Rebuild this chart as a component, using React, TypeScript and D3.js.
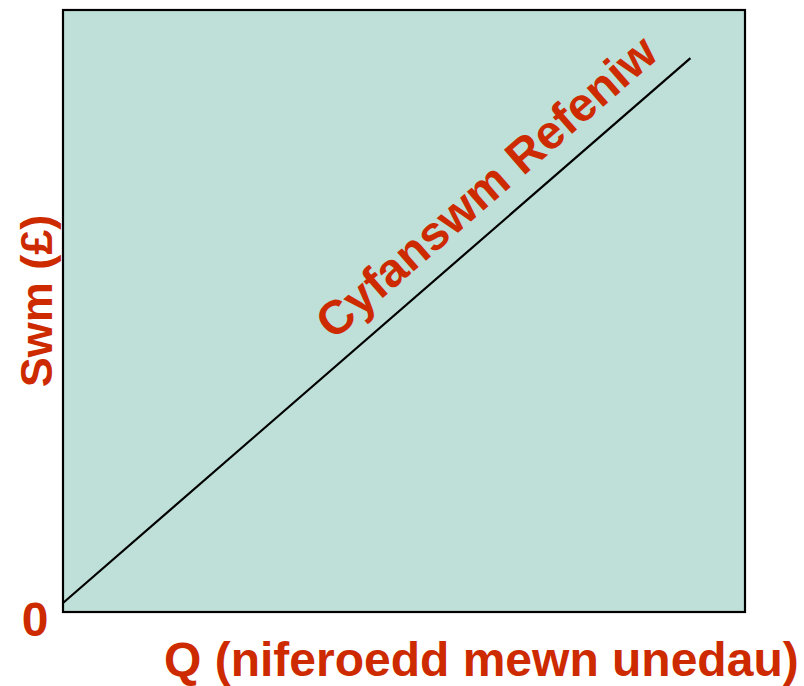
import React from "react";
import * as d3 from "d3";

const quantities = [0, 92];
const revenue = [1.5, 92];
const curveLabel = "Cyfanswm Refeniw";
const xTitle = "Q (niferoedd mewn unedau)";
const yTitle = "Swm (£)";
const originLabel = "0";

const W = 804;
const H = 686;
const plot = { left: 63, top: 10, right: 745, bottom: 612 };
const RED = "#CD2A00";
const FONT = "'Liberation Sans', Arial, Helvetica, sans-serif";

export default function App() {
  const x = d3.scaleLinear().domain([0, 100]).range([plot.left, plot.right]);
  const y = d3.scaleLinear().domain([0, 100]).range([plot.bottom, plot.top]);
  const pts = quantities.map((q, i) => [q, revenue[i]] as [number, number]);
  const line = d3
    .line<[number, number]>()
    .x((d) => x(d[0]))
    .y((d) => y(d[1]));

  const x0 = x(quantities[0]), y0 = y(revenue[0]);
  const x1 = x(quantities[1]), y1 = y(revenue[1]);
  const angle = (Math.atan2(y1 - y0, x1 - x0) * 180) / Math.PI;

  return (
    <svg
      width={W}
      height={H}
      style={{ position: "absolute", left: 0, top: 0 }}
      fontFamily={FONT}
    >
      <rect x={0} y={0} width={W} height={H} fill="#ffffff" />
      <rect
        x={plot.left}
        y={plot.top}
        width={plot.right - plot.left}
        height={plot.bottom - plot.top}
        fill="#BFE0D8"
        stroke="#000"
        strokeWidth={2.2}
      />
      <path d={line(pts) || ""} fill="none" stroke="#000" strokeWidth={2.2} />
      <text
        transform={`translate(497,199) rotate(${angle})`}
        textAnchor="middle"
        fontSize={47.5}
        fontWeight="bold"
        fill={RED}
      >
        {curveLabel}
      </text>
      <text x={35} y={636} textAnchor="middle" fontSize={48} fontWeight="bold" fill={RED}>
        {originLabel}
      </text>
      <text x={164} y={676} textAnchor="start" fontSize={48} fontWeight="bold" fill={RED}>
        {xTitle}
      </text>
      <text
        transform="translate(52,301) rotate(-90)"
        textAnchor="middle"
        fontSize={45}
        fontWeight="bold"
        fill={RED}
      >
        {yTitle}
      </text>
    </svg>
  );
}
